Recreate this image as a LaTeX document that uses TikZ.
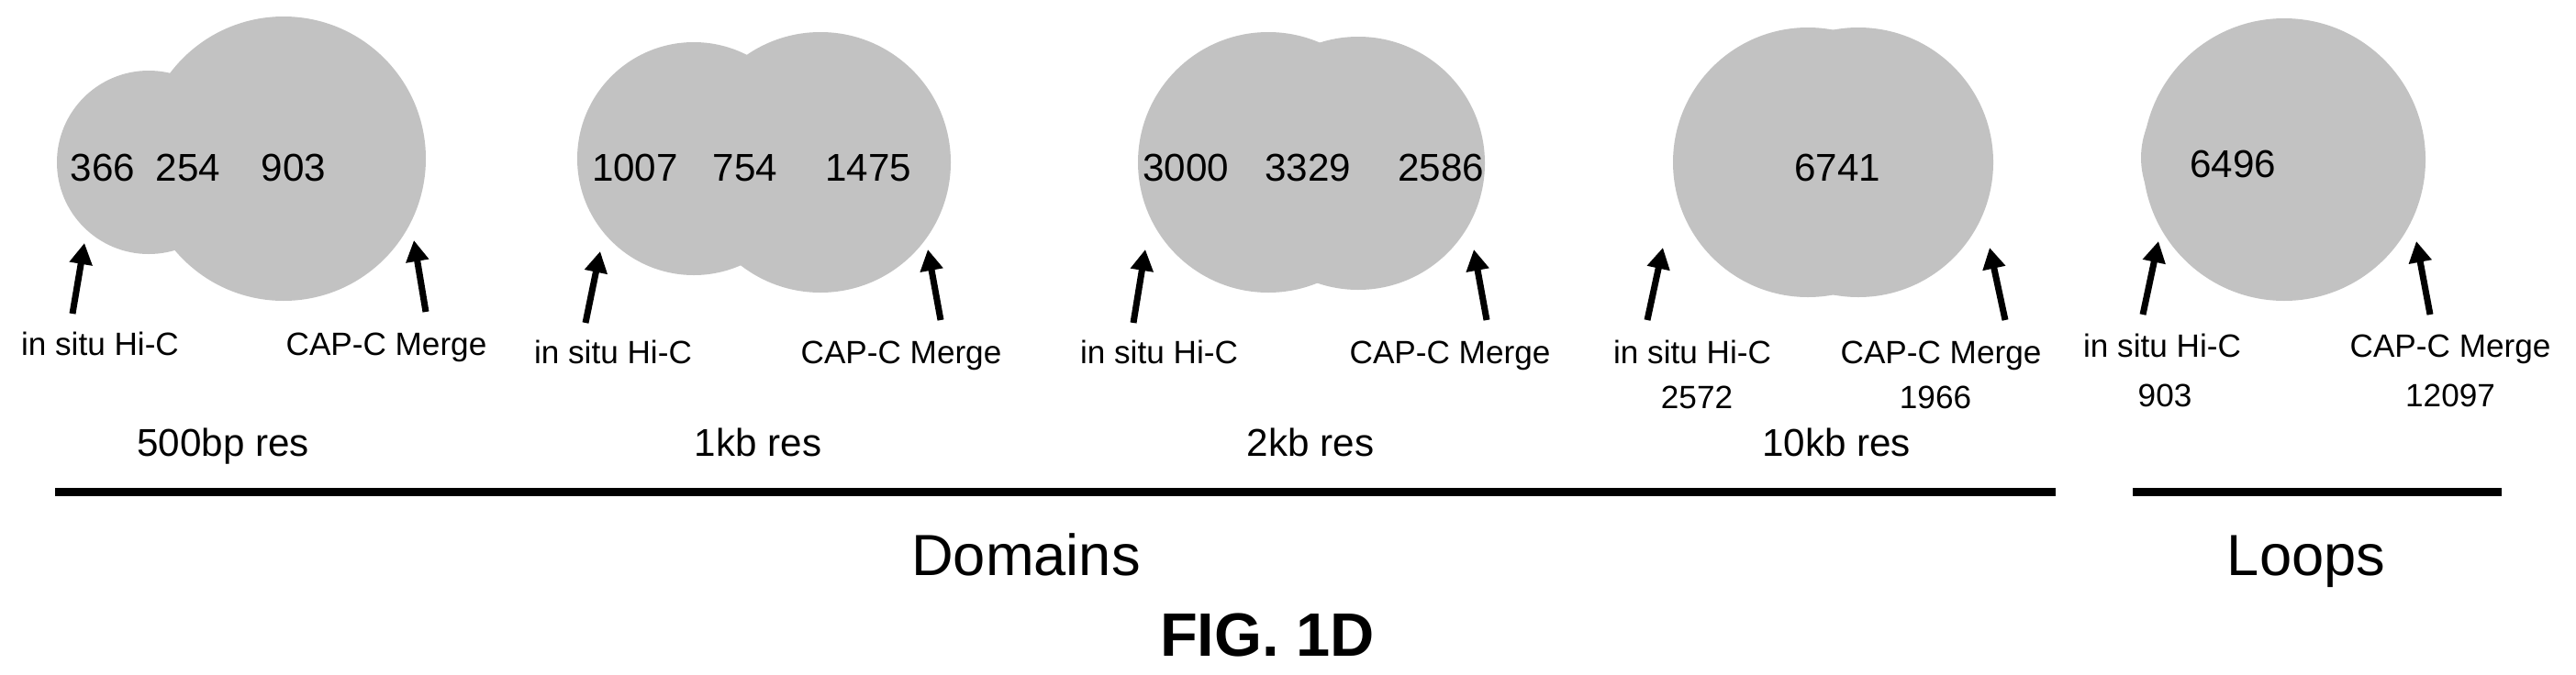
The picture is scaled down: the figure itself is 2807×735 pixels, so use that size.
\documentclass[tikz,border=0pt]{standalone}
\usepackage{fontspec}
\setmainfont{Liberation Sans}
\usetikzlibrary{arrows.meta}
\begin{document}
\begin{tikzpicture}[x=0.1mm,y=-0.1mm,
  venn/.style={circle,fill=black!24,draw=none,inner sep=0},
  num/.style={anchor=base,inner sep=0,font=\fontsize{12}{14}\selectfont},
  lab/.style={anchor=base,inner sep=0,font=\fontsize{10}{12}\selectfont},
  res/.style={anchor=base,inner sep=0,font=\fontsize{12}{14}\selectfont},
  big/.style={anchor=base,inner sep=0,font=\fontsize{18}{20}\selectfont},
  arr/.style={line width=0.7mm,-{Triangle[length=2.3mm,width=2.4mm]}},
  bar/.style={line width=0.9mm}]
\useasboundingbox (0,0) rectangle (2807,735);
% set 1
\node[venn,minimum size=20mm] (a1) at (162,177) {};
\node[venn,minimum size=31mm] (b1) at (309,173) {};
\node[num] (n11) at (112,197) {366};
\node[num] (n12) at (205,197) {254};
\node[num] (n13) at (320,197) {903};
% set 2
\node[venn,minimum size=25.4mm] (a2) at (756,173) {};
\node[venn,minimum size=28.4mm] (b2) at (894,177) {};
\node[num] (n21) at (692,197) {1007};
\node[num] (n22) at (812,197) {754};
\node[num] (n23) at (946,197) {1475};
% set 3
\node[venn,minimum size=28.4mm] (a3) at (1382,177) {};
\node[venn,minimum size=27.6mm] (b3) at (1480,178) {};
\node[num] (n31) at (1292,197) {3000};
\node[num] (n32) at (1425,197) {3329};
\node[num] (n33) at (1570,197) {2586};
% set 4
\node[venn,minimum size=29.4mm] (a4) at (1970,177) {};
\node[venn,minimum size=29.4mm] (b4) at (2025,177) {};
\node[num] (n41) at (2002,197) {6741};
% set 5
\node[venn,minimum size=18.4mm] (a5) at (2425,172) {};
\node[venn,minimum size=30.8mm] (b5) at (2489,174) {};
\node[num] (n51) at (2433,193) {6496};
% arrow coordinates
\coordinate (t11) at (79,342); \coordinate (h11) at (92,265);
\coordinate (t12) at (464,340); \coordinate (h12) at (451,262);
\coordinate (t21) at (638,352); \coordinate (h21) at (654,274);
\coordinate (t22) at (1025,349); \coordinate (h22) at (1011,272);
\coordinate (t31) at (1235,352); \coordinate (h31) at (1248,272);
\coordinate (t32) at (1620,349); \coordinate (h32) at (1606,272);
\coordinate (t41) at (1795,349); \coordinate (h41) at (1812,270);
\coordinate (t42) at (2185,349); \coordinate (h42) at (2168,270);
\coordinate (t51) at (2335,343); \coordinate (h51) at (2352,263);
\coordinate (t52) at (2648,343); \coordinate (h52) at (2633,263);
\foreach \i in {11,12,21,22,31,32,41,42,51,52} \draw[arr] (t\i) -- (h\i);
% labels
\node[lab] (l11) at (109,387) {in situ Hi-C};
\node[lab] (l12) at (421,387) {CAP-C Merge};
\node[lab] (l21) at (668,396) {in situ Hi-C};
\node[lab] (l22) at (982,396) {CAP-C Merge};
\node[lab] (l31) at (1263,396) {in situ Hi-C};
\node[lab] (l32) at (1580,396) {CAP-C Merge};
\node[lab] (l41) at (1844,396) {in situ Hi-C};
\node[lab] (l42) at (2115,396) {CAP-C Merge};
\node[lab] (m41) at (1849,445) {2572};
\node[lab] (m42) at (2109,445) {1966};
\node[lab] (l51) at (2356,389) {in situ Hi-C};
\node[lab] (l52) at (2670,389) {CAP-C Merge};
\node[lab] (m51) at (2359,443) {903};
\node[lab] (m52) at (2670,443) {12097};
\node[res] (r1) at (243,497) {500bp res};
\node[res] (r2) at (826,497) {1kb res};
\node[res] (r3) at (1428,497) {2kb res};
\node[res] (r4) at (2001,497) {10kb res};
% bars
\coordinate (d0) at (60,536); \coordinate (d1) at (2240,536);
\coordinate (p0) at (2324,536); \coordinate (p1) at (2726,536);
\draw[bar] (d0) -- (d1);
\draw[bar] (p0) -- (p1);
\node[big] (dom) at (1118,627) {Domains};
\node[big] (loo) at (2513,627) {Loops};
\node[anchor=base,inner sep=0,font=\fontsize{19}{21}\selectfont\bfseries] (fig) at (1381,715) {FIG. 1D};
\end{tikzpicture}
\end{document}
